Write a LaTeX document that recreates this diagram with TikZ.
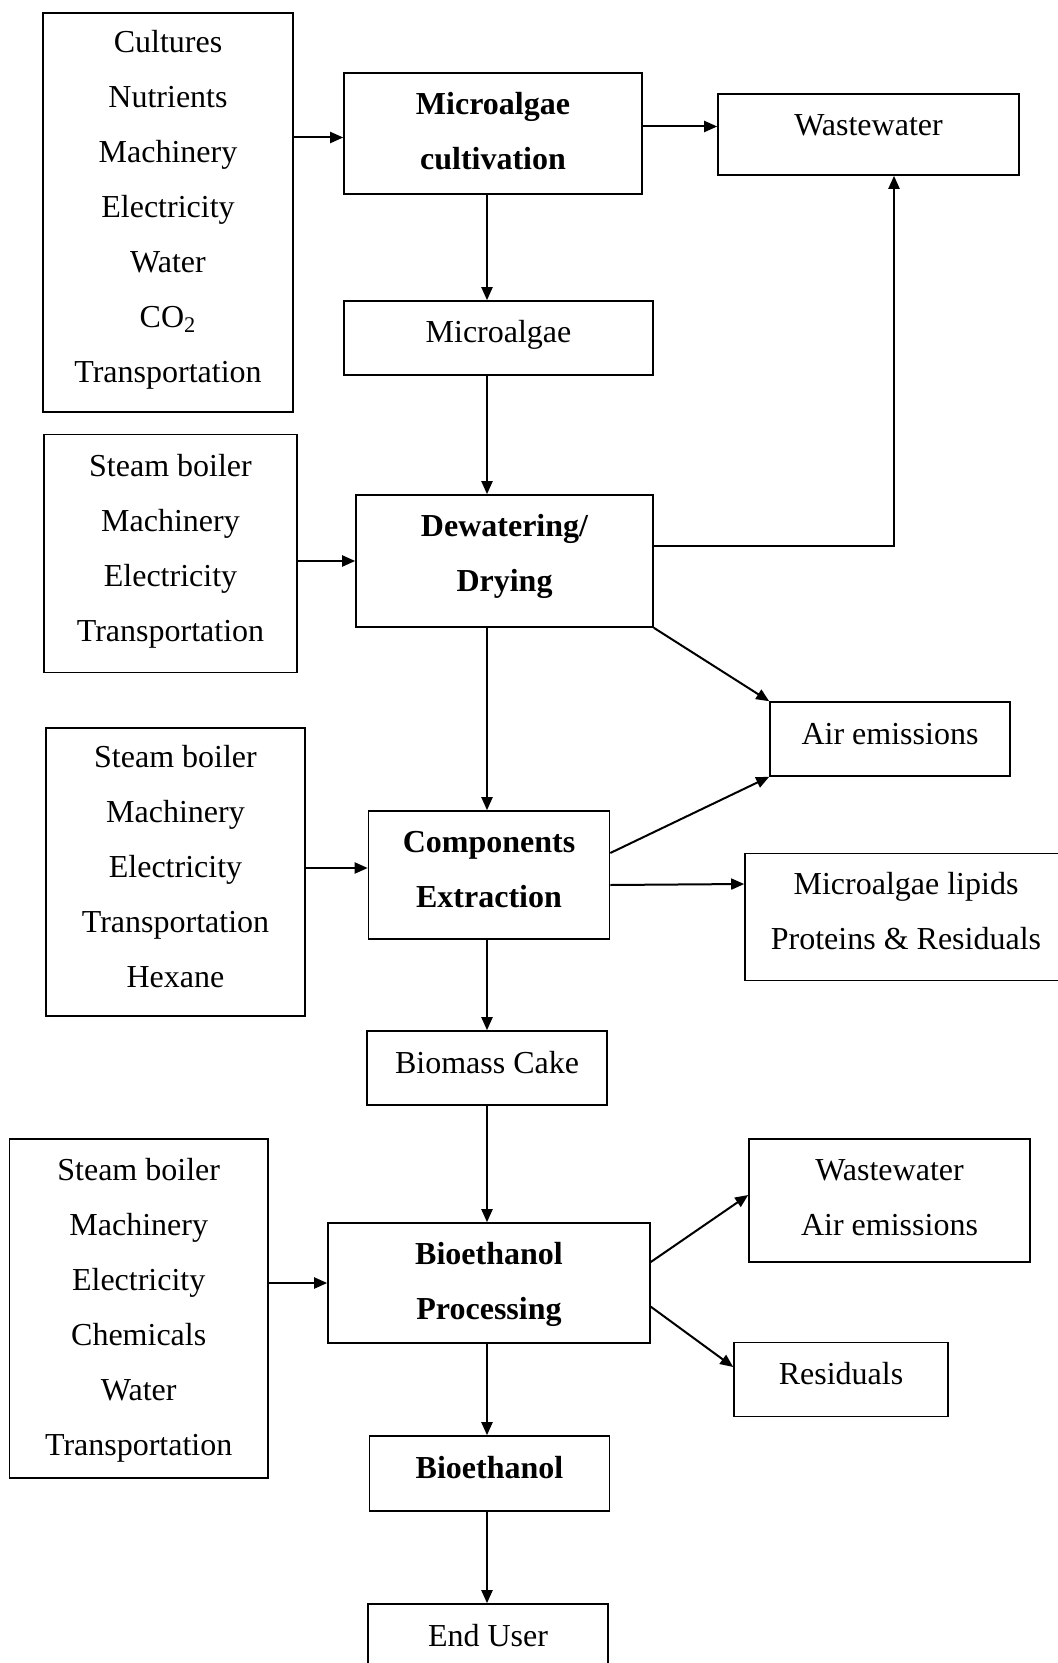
\documentclass[tikz,border=0pt]{standalone}
\usepackage{fontspec}
\setmainfont{Liberation Serif}
\usetikzlibrary{arrows.meta}
\newcommand\boxtext[2][3pt]{\raisebox{#1}[\height][\depth]{\begin{tabular}{@{}c@{}}#2\end{tabular}}}

\begin{document}
\begin{tikzpicture}[x=0.5pt,y=-0.5pt,
    box/.style={draw,line width=0.8pt,inner sep=0pt,font=\fontsize{16}{27.5}\selectfont},
    bold/.style={box,font=\fontsize{16}{27.5}\selectfont\bfseries},
    wh/.style 2 args={minimum width=#1*0.5pt,minimum height=#2*0.5pt},
    flow/.style={line width=1pt,-{Triangle[length=6.5pt,width=5.5pt]}}]
  \useasboundingbox (0,0) rectangle (1057,1663);
  \coordinate (spine) at (487,0);
  % inputs
  \node[box,wh={249.5}{399}] (inA) at (168,212.5) {\boxtext{Cultures\\Nutrients\\Machinery\\Electricity\\Water\\CO\textsubscript{2}\\Transportation}};
  \node[box,wh={253}{238}] (inB) at (170.5,553.5) {\boxtext{Steam boiler\\Machinery\\Electricity\\Transportation}};
  \node[box,wh={259}{288}] (inC) at (175.5,872) {\boxtext{Steam boiler\\Machinery\\Electricity\\Transportation\\Hexane}};
  \node[box,wh={258.6}{339}] (inD) at (138.7,1308.5) {\boxtext[1pt]{Steam boiler\\Machinery\\Electricity\\Chemicals\\Water\\Transportation}};
  % main chain
  \node[bold,wh={298}{121}] (cult) at (493,133.5) {\boxtext[1pt]{Microalgae\\cultivation}};
  \node[box,wh={309}{74}] (alg) at (498.5,338) {\boxtext{Microalgae}};
  \node[bold,wh={297}{132}] (dew) at (504.5,561) {\boxtext[4pt]{Dewatering/\\Drying}};
  \node[bold,wh={241}{128}] (comp) at (489,875) {\boxtext{Components\\Extraction}};
  \node[box,wh={240}{74}] (cake) at (487,1068) {\boxtext{Biomass Cake}};
  \node[bold,wh={322}{120}] (proc) at (489,1283) {\boxtext[1pt]{Bioethanol\\Processing}};
  \node[bold,wh={240}{75}] (eth) at (489.5,1473.5) {\boxtext{Bioethanol}};
  \node[box,wh={240}{75}] (user) at (488,1641.5) {\boxtext{End User}};
  % outputs
  \node[box,wh={301}{81}] (wwA) at (868.5,134.5) {\boxtext[5pt]{Wastewater}};
  \node[box,wh={240}{74}] (air) at (890,739) {\boxtext{Air emissions}};
  \node[box,wh={322}{127}] (lip) at (906,917) {\boxtext{Microalgae lipids\\Proteins \& Residuals}};
  \node[box,wh={281}{123}] (wwB) at (889.5,1200.5) {\boxtext[2pt]{Wastewater\\Air emissions}};
  \node[box,wh={214}{74}] (res) at (841,1379.5) {\boxtext{Residuals}};
  % arrows
  \draw[flow] ([yshift=-2pt]cult.west -| inA.east) -- ([yshift=-2pt]cult.west);
  \draw[flow] ([yshift=3.5pt]cult.east) -- ([yshift=3.5pt]cult.east -| wwA.west);
  \draw[flow] (cult.south -| spine) -- (alg.north -| spine);
  \draw[flow] (alg.south -| spine) -- (dew.north -| spine);
  \draw[flow] ([yshift=7.75pt]dew.east) -| ([xshift=12.75pt]wwA.south);
  \draw[flow] (dew.west -| inB.east) -- (dew.west);
  \draw[flow] (dew.south east) -- (air.north west);
  \draw[flow] (dew.south -| spine) -- (comp.north -| spine);
  \draw[flow] ([yshift=3.5pt]comp.west -| inC.east) -- ([yshift=3.5pt]comp.west);
  \draw[flow] ([yshift=11pt]comp.east) -- (air.south west);
  \draw[flow] ([yshift=-5pt]comp.east) -- ([yshift=16.5pt]lip.west);
  \draw[flow] (comp.south -| spine) -- (cake.north -| spine);
  \draw[flow] (cake.south -| spine) -- (proc.north -| spine);
  \draw[flow] (proc.west -| inD.east) -- (proc.west);
  \draw[flow] ([yshift=10.5pt]proc.east) -- ([yshift=2.75pt]wwB.west);
  \draw[flow] ([yshift=-11.85pt]proc.east) -- ([yshift=6.25pt]res.west);
  \draw[flow] (proc.south -| spine) -- (eth.north -| spine);
  \draw[flow] (eth.south -| spine) -- (user.north -| spine);
\end{tikzpicture}
\end{document}
